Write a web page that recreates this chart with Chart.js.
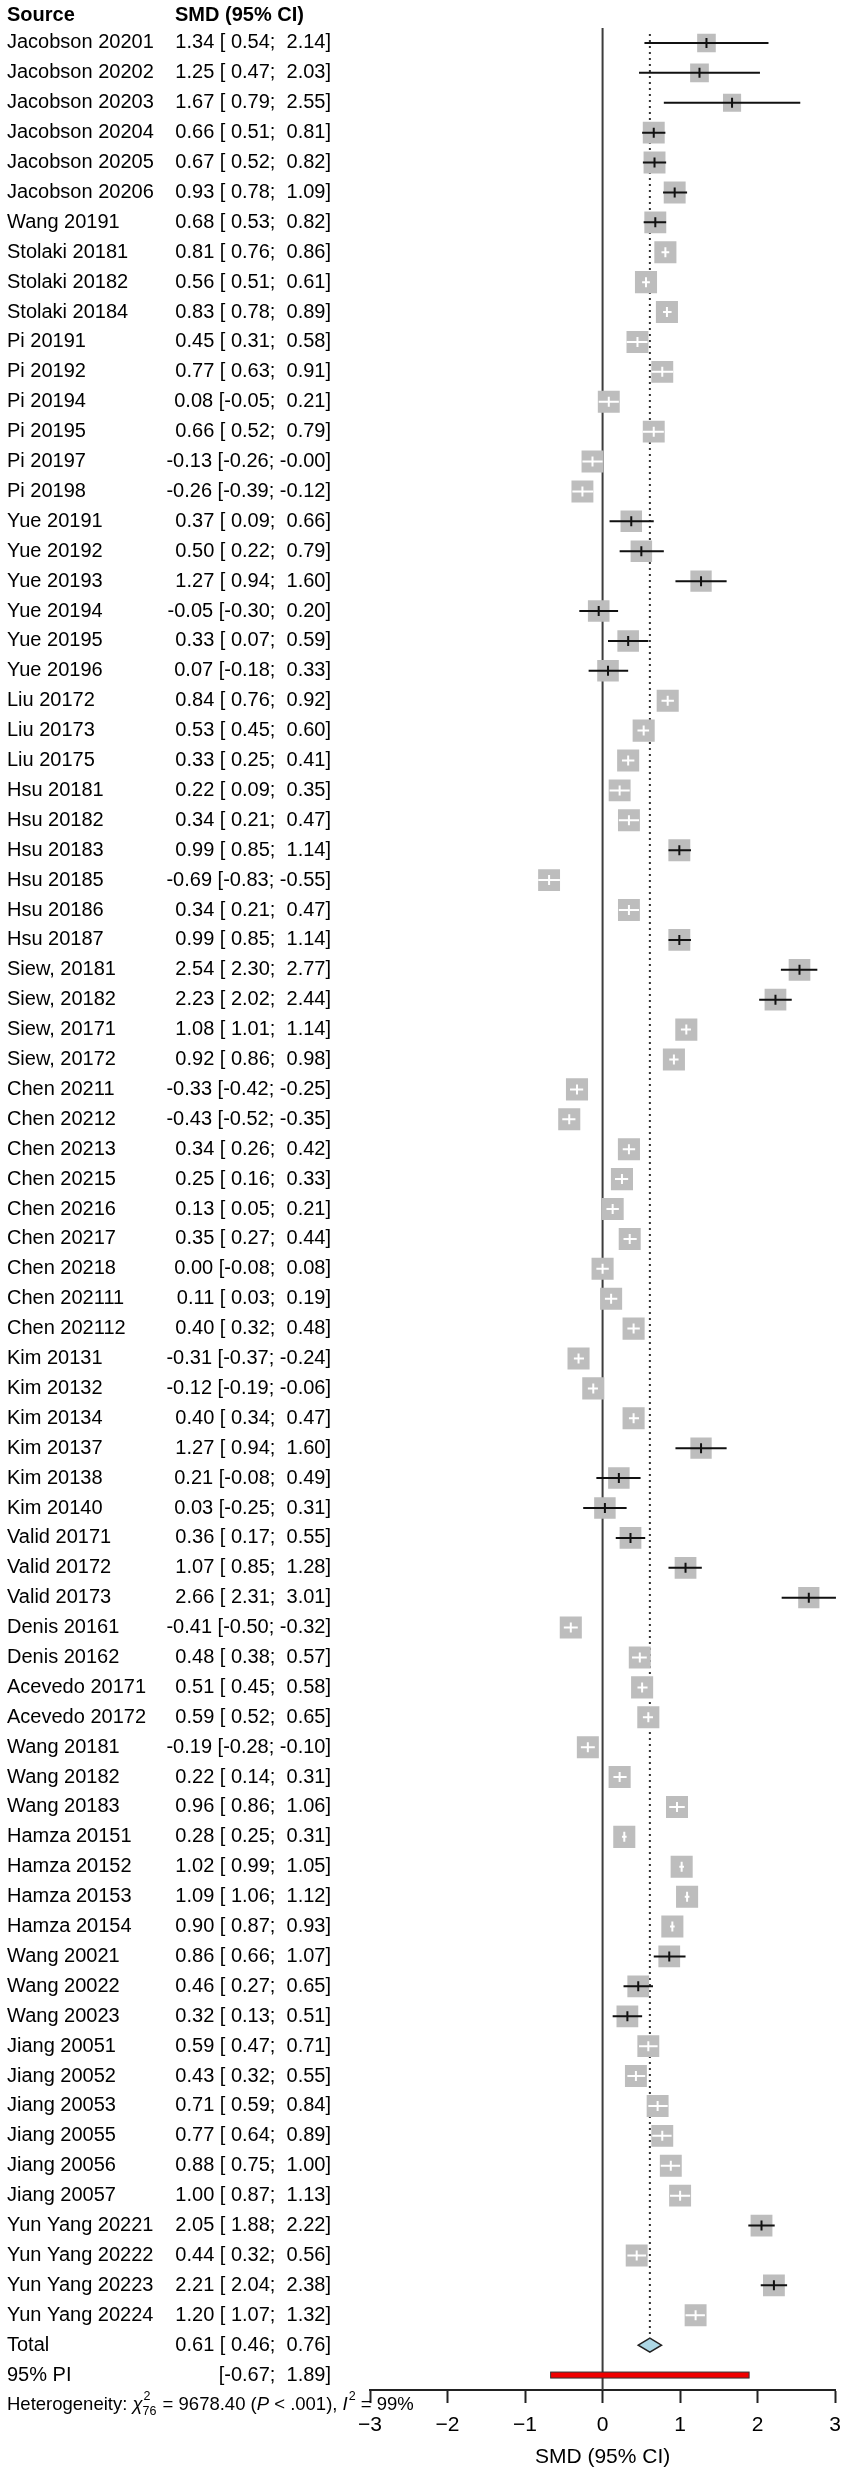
<!DOCTYPE html>
<html>
<head>
<meta charset="utf-8">
<script src="https://cdn.jsdelivr.net/npm/chart.js@4.4.1/dist/chart.umd.min.js"></script>
<style>
    html, body { margin: 0; padding: 0; background: #fff; }
    canvas { display: block; }
</style>
</head>
<body>
<canvas id="forestChart" width="851" height="2474" style="width:851px;height:2474px"></canvas>
<script>
const studies = [
    'Jacobson 20201', 'Jacobson 20202', 'Jacobson 20203', 'Jacobson 20204', 'Jacobson 20205', 'Jacobson 20206',
    'Wang 20191', 'Stolaki 20181', 'Stolaki 20182', 'Stolaki 20184',
    'Pi 20191', 'Pi 20192', 'Pi 20194', 'Pi 20195', 'Pi 20197', 'Pi 20198',
    'Yue 20191', 'Yue 20192', 'Yue 20193', 'Yue 20194', 'Yue 20195', 'Yue 20196',
    'Liu 20172', 'Liu 20173', 'Liu 20175',
    'Hsu 20181', 'Hsu 20182', 'Hsu 20183', 'Hsu 20185', 'Hsu 20186', 'Hsu 20187',
    'Siew, 20181', 'Siew, 20182', 'Siew, 20171', 'Siew, 20172',
    'Chen 20211', 'Chen 20212', 'Chen 20213', 'Chen 20215', 'Chen 20216', 'Chen 20217', 'Chen 20218', 'Chen 202111', 'Chen 202112',
    'Kim 20131', 'Kim 20132', 'Kim 20134', 'Kim 20137', 'Kim 20138', 'Kim 20140',
    'Valid 20171', 'Valid 20172', 'Valid 20173',
    'Denis 20161', 'Denis 20162', 'Acevedo 20171', 'Acevedo 20172',
    'Wang 20181', 'Wang 20182', 'Wang 20183',
    'Hamza 20151', 'Hamza 20152', 'Hamza 20153', 'Hamza 20154',
    'Wang 20021', 'Wang 20022', 'Wang 20023',
    'Jiang 20051', 'Jiang 20052', 'Jiang 20053', 'Jiang 20055', 'Jiang 20056', 'Jiang 20057',
    'Yun Yang 20221', 'Yun Yang 20222', 'Yun Yang 20223', 'Yun Yang 20224',
];

const smd = [
    1.34, 1.25, 1.67, 0.66, 0.67, 0.93,
    0.68, 0.81, 0.56, 0.83,
    0.45, 0.77, 0.08, 0.66, -0.13, -0.26,
    0.37, 0.50, 1.27, -0.05, 0.33, 0.07,
    0.84, 0.53, 0.33,
    0.22, 0.34, 0.99, -0.69, 0.34, 0.99,
    2.54, 2.23, 1.08, 0.92,
    -0.33, -0.43, 0.34, 0.25, 0.13, 0.35, 0.00, 0.11, 0.40,
    -0.31, -0.12, 0.40, 1.27, 0.21, 0.03,
    0.36, 1.07, 2.66,
    -0.41, 0.48, 0.51, 0.59,
    -0.19, 0.22, 0.96,
    0.28, 1.02, 1.09, 0.90,
    0.86, 0.46, 0.32,
    0.59, 0.43, 0.71, 0.77, 0.88, 1.00,
    2.05, 0.44, 2.21, 1.20,
];

const ciLower = [
    0.54, 0.47, 0.79, 0.51, 0.52, 0.78,
    0.53, 0.76, 0.51, 0.78,
    0.31, 0.63, -0.05, 0.52, -0.26, -0.39,
    0.09, 0.22, 0.94, -0.30, 0.07, -0.18,
    0.76, 0.45, 0.25,
    0.09, 0.21, 0.85, -0.83, 0.21, 0.85,
    2.30, 2.02, 1.01, 0.86,
    -0.42, -0.52, 0.26, 0.16, 0.05, 0.27, -0.08, 0.03, 0.32,
    -0.37, -0.19, 0.34, 0.94, -0.08, -0.25,
    0.17, 0.85, 2.31,
    -0.50, 0.38, 0.45, 0.52,
    -0.28, 0.14, 0.86,
    0.25, 0.99, 1.06, 0.87,
    0.66, 0.27, 0.13,
    0.47, 0.32, 0.59, 0.64, 0.75, 0.87,
    1.88, 0.32, 2.04, 1.07,
];

const ciUpper = [
    2.14, 2.03, 2.55, 0.81, 0.82, 1.09,
    0.82, 0.86, 0.61, 0.89,
    0.58, 0.91, 0.21, 0.79, -0.00, -0.12,
    0.66, 0.79, 1.60, 0.20, 0.59, 0.33,
    0.92, 0.60, 0.41,
    0.35, 0.47, 1.14, -0.55, 0.47, 1.14,
    2.77, 2.44, 1.14, 0.98,
    -0.25, -0.35, 0.42, 0.33, 0.21, 0.44, 0.08, 0.19, 0.48,
    -0.24, -0.06, 0.47, 1.60, 0.49, 0.31,
    0.55, 1.28, 3.01,
    -0.32, 0.57, 0.58, 0.65,
    -0.10, 0.31, 1.06,
    0.31, 1.05, 1.12, 0.93,
    1.07, 0.65, 0.51,
    0.71, 0.55, 0.84, 0.89, 1.00, 1.13,
    2.22, 0.56, 2.38, 1.32,
];

// study weights (%)
const weights = [
    0.96, 0.97, 0.91, 1.33, 1.33, 1.33,
    1.33, 1.35, 1.35, 1.35,
    1.33, 1.33, 1.33, 1.33, 1.33, 1.33,
    1.28, 1.28, 1.26, 1.29, 1.29, 1.29,
    1.35, 1.35, 1.35,
    1.33, 1.33, 1.33, 1.33, 1.33, 1.33,
    1.30, 1.31, 1.35, 1.35,
    1.35, 1.35, 1.35, 1.35, 1.35, 1.34, 1.35, 1.35, 1.35,
    1.35, 1.35, 1.35, 1.26, 1.28, 1.28,
    1.31, 1.31, 1.25,
    1.35, 1.34, 1.35, 1.35,
    1.34, 1.35, 1.34,
    1.35, 1.35, 1.35, 1.35,
    1.31, 1.31, 1.31,
    1.33, 1.33, 1.33, 1.33, 1.33, 1.33,
    1.32, 1.33, 1.32, 1.33,
];

const totalSmd = 0.61;
const totalLower = 0.46;
const totalUpper = 0.76;
const piLower = -0.67;
const piUpper = 1.89;
const heteroChi2 = '9678.40';
const heteroDf = '76';
const heteroP = '< .001';
const heteroI2 = '99%';
const xTicks = [-3, -2, -1, 0, 1, 2, 3];

const FONT = '"Liberation Sans", Arial, Helvetica, sans-serif';
const TEXT_SIZE = 20;
const ESTIMATE_RIGHT = 331;
const LABEL_LEFT = 7;

const isNeg = (v) => v < 0 || Object.is(v, -0);
const fmt = (v) => (isNeg(v) ? '-' : '') + Math.abs(v).toFixed(2);
const pad = (v) => (isNeg(v) ? '' : ' ') + fmt(v);
const ciText = (est, lo, hi) => `${est === null ? '' : fmt(est) + ' '}[${pad(lo)}; ${pad(hi)}]`;
const squareSide = (w) => 19 * Math.sqrt(w);

const forestMarks = {
    id: 'forestMarks',
    beforeDatasetsDraw(chart) {
        const { ctx, chartArea, scales: { x, y } } = chart;
        const x0 = x.getPixelForValue(0);
        const xp = x.getPixelForValue(totalSmd);
        ctx.save();
        ctx.strokeStyle = '#3c3c3c';
        ctx.lineWidth = 2;
        ctx.beginPath();
        ctx.moveTo(x0, chartArea.top);
        ctx.lineTo(x0, chartArea.bottom);
        ctx.stroke();

        ctx.strokeStyle = '#333';
        ctx.setLineDash([2, 4]);
        ctx.beginPath();
        ctx.moveTo(xp, chartArea.top + 6);
        ctx.lineTo(xp, y.getPixelForValue(studies.length) - 7);
        ctx.stroke();
        ctx.restore();
    },
    afterDatasetsDraw(chart) {
        const { ctx, scales: { x, y } } = chart;
        ctx.save();
        ctx.lineCap = 'butt';

        studies.forEach((name, i) => {
            const yy = y.getPixelForValue(i);
            const xe = x.getPixelForValue(smd[i]);
            const xl = x.getPixelForValue(ciLower[i]);
            const xh = x.getPixelForValue(ciUpper[i]);
            const half = squareSide(weights[i]) / 2;
            const inside = xl >= xe - half && xh <= xe + half;
            ctx.strokeStyle = inside ? '#fff' : '#111';
            ctx.lineWidth = 2;
            ctx.beginPath();
            ctx.moveTo(xl, yy);
            ctx.lineTo(xh, yy);
            ctx.moveTo(xe, yy - 5);
            ctx.lineTo(xe, yy + 5);
            ctx.stroke();
        });

        // pooled estimate diamond
        const yt = y.getPixelForValue(studies.length);
        ctx.beginPath();
        ctx.moveTo(x.getPixelForValue(totalLower), yt);
        ctx.lineTo(x.getPixelForValue(totalSmd), yt - 7);
        ctx.lineTo(x.getPixelForValue(totalUpper), yt);
        ctx.lineTo(x.getPixelForValue(totalSmd), yt + 7);
        ctx.closePath();
        ctx.fillStyle = '#add8e6';
        ctx.fill();
        ctx.strokeStyle = '#222';
        ctx.lineWidth = 1.5;
        ctx.stroke();

        // prediction interval bar
        const yp = y.getPixelForValue(studies.length + 1);
        const pl = x.getPixelForValue(piLower);
        const ph = x.getPixelForValue(piUpper);
        ctx.fillStyle = '#f00000';
        ctx.fillRect(pl, yp - 3, ph - pl, 6);
        ctx.strokeStyle = '#333';
        ctx.lineWidth = 1;
        ctx.strokeRect(pl, yp - 3, ph - pl, 6);
        ctx.restore();
    },
    afterDraw(chart) {
        const { ctx, scales: { y } } = chart;
        ctx.save();
        ctx.fillStyle = '#000';
        ctx.textBaseline = 'middle';

        const yh = y.getPixelForValue(-1) + 2;
        ctx.font = `bold ${TEXT_SIZE}px ${FONT}`;
        ctx.textAlign = 'left';
        ctx.fillText('Source', LABEL_LEFT, yh);
        ctx.fillText('SMD (95% CI)', 175, yh);

        ctx.font = `${TEXT_SIZE}px ${FONT}`;
        const rows = studies.map((name, i) => [name, ciText(smd[i], ciLower[i], ciUpper[i])]);
        rows.push(['Total', ciText(totalSmd, totalLower, totalUpper)]);
        rows.push(['95% PI', ciText(null, piLower, piUpper)]);
        rows.forEach(([label, est], i) => {
            const yy = y.getPixelForValue(i);
            ctx.textAlign = 'left';
            ctx.fillText(label, LABEL_LEFT, yy);
            ctx.textAlign = 'right';
            ctx.fillText(est, ESTIMATE_RIGHT, yy);
        });

        // heterogeneity line
        const yg = y.getPixelForValue(studies.length + 2);
        const base = `18.5px ${FONT}`;
        const ital = `italic 18.5px ${FONT}`;
        const small = `12.5px ${FONT}`;
        let cx = LABEL_LEFT;
        ctx.textAlign = 'left';
        const put = (text, font, dy = 0) => {
            ctx.font = font;
            ctx.fillText(text, cx, yg + dy);
            cx += ctx.measureText(text).width;
        };
        put('Heterogeneity: ', base);
        put('\u03c7', ital);
        ctx.font = small;
        ctx.fillText('2', cx + 1, yg - 8);
        ctx.fillText(heteroDf, cx, yg + 7);
        cx += ctx.measureText(heteroDf).width + 1;
        put(` = ${heteroChi2} (`, base);
        put('P', ital);
        put(` ${heteroP}), `, base);
        put('I', ital);
        ctx.font = small;
        ctx.fillText('2', cx + 1, yg - 8);
        cx += ctx.measureText('2').width + 1;
        put(` = ${heteroI2}`, base);
        ctx.restore();
    },
};

new Chart(document.getElementById('forestChart'), {
    type: 'scatter',
    data: {
        datasets: [{
            label: 'SMD',
            data: smd.map((v, i) => ({ x: v, y: i })),
            pointStyle: 'rect',
            pointRadius: weights.map((w) => squareSide(w) / Math.SQRT2),
            backgroundColor: '#bdbdbd',
            borderWidth: 0,
        }],
    },
    options: {
        responsive: false,
        devicePixelRatio: 1,
        animation: false,
        events: [],
        layout: { padding: { top: 28, left: 370, right: 13, bottom: 0 } },
        plugins: {
            legend: { display: false },
            tooltip: { enabled: false },
        },
        scales: {
            y: {
                type: 'linear',
                display: false,
                reverse: true,
                min: -0.5,
                max: studies.length + 1.5,
            },
            x: {
                type: 'linear',
                min: -3,
                max: 3,
                afterBuildTicks: (scale) => { scale.ticks = xTicks.map((value) => ({ value })); },
                afterFit: (scale) => { scale.height = 84; },
                grid: { drawOnChartArea: false, drawTicks: true, tickLength: 13, tickWidth: 2, color: '#222' },
                border: { display: true, color: '#222', width: 2 },
                ticks: {
                    color: '#000',
                    padding: 10,
                    maxRotation: 0,
                    autoSkip: false,
                    font: { family: FONT, size: 21 },
                    callback: (v) => (v < 0 ? '\u2212' + Math.abs(v) : String(v)),
                },
                title: {
                    display: true,
                    text: 'SMD (95% CI)',
                    color: '#000',
                    font: { family: FONT, size: 21 },
                    padding: { top: 0, bottom: 4 },
                },
            },
        },
    },
    plugins: [forestMarks],
});
</script>
</body>
</html>
